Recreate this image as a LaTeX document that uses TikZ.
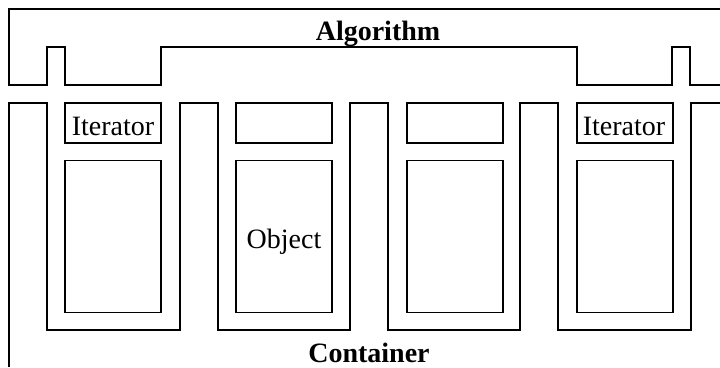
\documentclass[tikz,border=0pt]{standalone}
\usepackage{fontspec}
\setmainfont{Liberation Serif}
\begin{document}
\begin{tikzpicture}[x=1pt,y=-1pt,
  outline/.style={draw=black,line width=1.6pt,line join=miter},
  box/.style={draw=black,line width=1.6pt,inner sep=0pt,rectangle},
  itbox/.style={box,minimum width=96pt,minimum height=40pt},
  objbox/.style={box,minimum width=96pt,minimum height=152pt},
  lbl/.style={font=\fontsize{28}{30}\selectfont,inner sep=0pt,anchor=base},
  blbl/.style={lbl,font=\fontsize{28}{30}\selectfont\bfseries}]
\useasboundingbox[fill=white] (0,0) rectangle (720,367);
% Algorithm outline
\draw[outline] (720,9) -- (9,9) -- (9,85) -- (47,85) -- (47,47) -- (65,47) -- (65,85)
  -- (161,85) -- (161,47) -- (577,47) -- (577,85) -- (672,85) -- (672,47)
  -- (690,47) -- (690,85) -- (720,85);
% Container outline
\draw[outline] (9,367) -- (9,103) -- (47,103) -- (47,330) -- (180,330) -- (180,103)
  -- (218,103) -- (218,330) -- (350,330) -- (350,103) -- (388,103) -- (388,330)
  -- (520,330) -- (520,103) -- (558,103) -- (558,330) -- (691,330) -- (691,103) -- (720,103);
% iterator boxes
\node[itbox] (it1) at (113,123) {};
\node[itbox] (it2) at (284,123) {};
\node[itbox] (it3) at (455,123) {};
\node[itbox] (it4) at (625,123) {};
% object boxes
\node[objbox] (ob1) at (113,236.5) {};
\node[objbox] (ob2) at (284,236.5) {};
\node[objbox] (ob3) at (455,236.5) {};
\node[objbox] (ob4) at (625,236.5) {};
% labels
\node[lbl] (t1) at (113,135.5) {Iterator};
\node[lbl] (t4) at (624,135.5) {Iterator};
\node[lbl] (tobj) at (284,248) {Object};
\node[blbl] (talg) at (378,40.5) {Algorithm};
\node[blbl] (tcon) at (369,362) {Container};
\end{tikzpicture}
\end{document}
